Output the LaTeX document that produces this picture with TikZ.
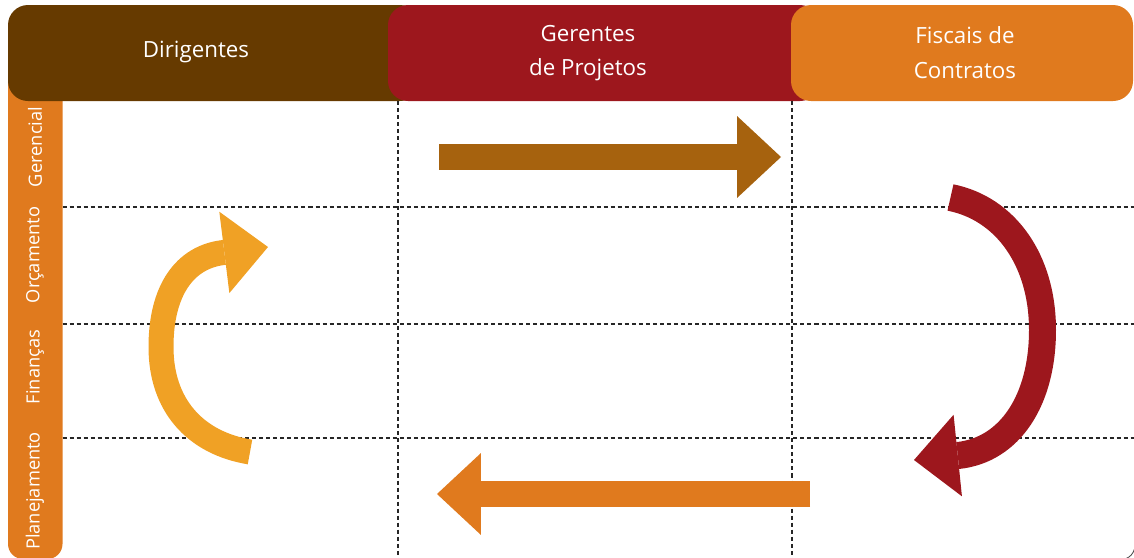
\documentclass[tikz,border=0pt]{standalone}
\usepackage{fontspec}
\setmainfont{Open Sans}
\usetikzlibrary{arrows.meta}

\definecolor{dirbrown}{HTML}{663A00}
\definecolor{gerred}{HTML}{9D171D}
\definecolor{fisorange}{HTML}{E07A1E}
\definecolor{flowbrown}{HTML}{A6620E}
\definecolor{flowyellow}{HTML}{F0A125}

\tikzset{
  headtext/.style={text=white, align=center, font=\fontsize{12.7}{19.8}\selectfont},
  rowlabel/.style={rotate=90, text=white, font=\fontsize{10.4}{12}\selectfont},
  gridline/.style={dash pattern=on 2.3pt off 1.7pt, line width=0.7pt, black!85},
  flow/.style={line width=0.52cm, arrows={-Triangle[length=0.88cm, width=1.64cm, line width=0pt]}},
}

\begin{document}
\begin{tikzpicture}[x=0.02cm, y=-0.02cm]
\useasboundingbox (0,0) rectangle (1134,558);
% side bar and the three heads
\fill[fisorange, rounded corners=0.3cm] (8,60) rectangle (62.5,559);
\fill[dirbrown,  rounded corners=0.4cm] (8,5)   rectangle (420,101);
\fill[gerred,    rounded corners=0.4cm] (388,5) rectangle (820,101);
\fill[fisorange, rounded corners=0.4cm] (791,5) rectangle (1133,101);
\node[headtext] (dirigentes) at (196,52) {Dirigentes};
\node[headtext] (gerentes)   at (588,53) {Gerentes\\de Projetos};
\node[headtext] (fiscais)    at (965,53) {Fiscais de\\Contratos};
\node[rowlabel] (gerencial)    at (35,147) {Gerencial};
\node[rowlabel] (orcamento)    at (35,255) {Orçamento};
\node[rowlabel] (financas)     at (35,367) {Finanças};
\node[rowlabel] (planejamento) at (35,491) {Planejamento};
% grid
\foreach \y in {207,324,438}
  \draw[gridline] (62.5,\y) -- (1134,\y);
\foreach \x in {398,792}
  \draw[gridline] (\x,101) -- (\x,558);
\draw[black!70, line width=0.5pt] (1126,558.5) .. controls (1130,557) and (1133,554) .. (1134.5,549);
% the cycle
\draw[flow, flowbrown] (439,157) -- (781,157);
\draw[flow, gerred, line width=0.54cm] (950.5,197.5) .. controls (1005.5,208.5) and (1042.5,260) .. (1042.5,330)
  .. controls (1042.5,400) and (1010,450) .. (958,455.5) -- (914,460);
\draw[flow, fisorange] (810,494) -- (437,494);
\draw[flow, flowyellow, line width=0.5cm] (250,452) .. controls (195,443) and (161,405) .. (161,347)
  .. controls (161,290) and (185,257) .. (223.5,252.5) -- (268,247);
\end{tikzpicture}
\end{document}
